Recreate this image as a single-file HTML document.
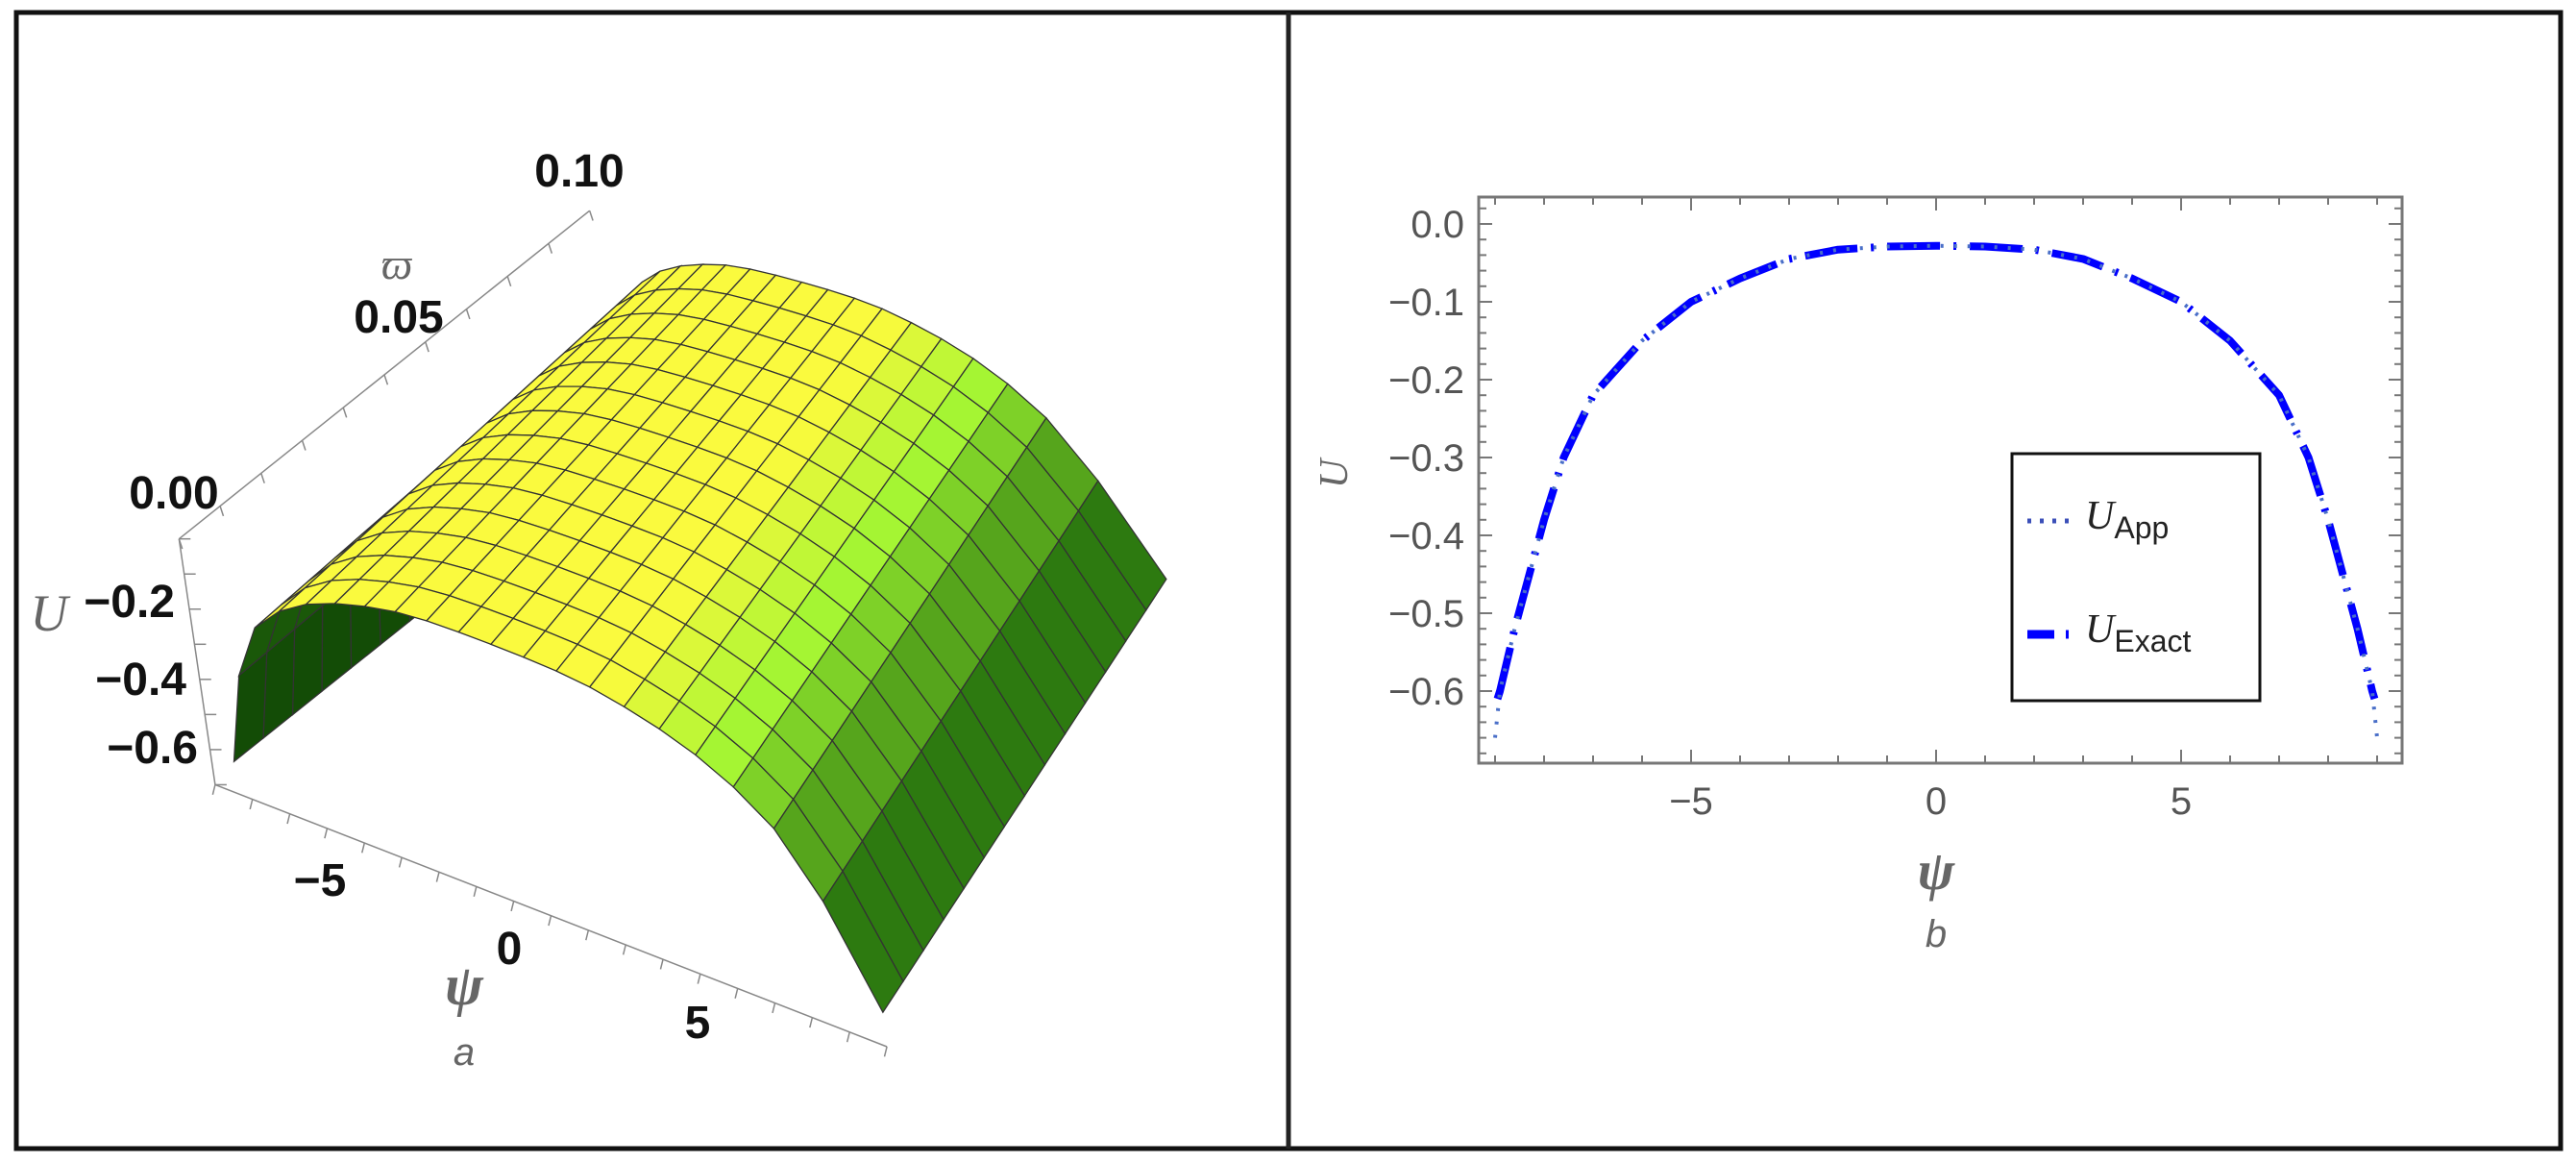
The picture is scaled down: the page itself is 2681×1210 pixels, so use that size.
<!DOCTYPE html>
<html><head><meta charset="utf-8"><style>
html,body{margin:0;padding:0;background:#fff;overflow:hidden;}
svg{display:block;font-family:"Liberation Sans",sans-serif;}
</style></head><body>
<svg id="fig" width="2681" height="1210" viewBox="0 0 2681 1210" xmlns="http://www.w3.org/2000/svg">
<rect x="0" y="0" width="2681" height="1210" fill="#fff"/>
<rect x="17" y="13" width="2648" height="1182" fill="none" stroke="#111" stroke-width="5"/>
<line x1="1341" y1="13" x2="1341" y2="1195" stroke="#222" stroke-width="5"/>

<g>
<g id="p3d" transform="translate(0,100) scale(0.8547,0.6443)">
  <g id="box3d" stroke="#888" stroke-width="1.5" fill="none">
    <line x1="218" y1="715" x2="262" y2="1112" vector-effect="non-scaling-stroke"/>
    <line x1="262" y1="1112" x2="1080" y2="1535" vector-effect="non-scaling-stroke"/>
    <line x1="218" y1="715" x2="718" y2="185" vector-effect="non-scaling-stroke"/>
  </g>
  <g id="surf"></g>
</g>
  <g font-weight="bold" fill="#111" font-size="48">
    <text x="603" y="194" text-anchor="middle">0.10</text>
    <text x="415" y="346" text-anchor="middle">0.05</text>
    <text x="181" y="529" text-anchor="middle">0.00</text>
    <text x="182" y="642" text-anchor="end">−0.2</text>
    <text x="194" y="723" text-anchor="end">−0.4</text>
    <text x="206" y="794" text-anchor="end">−0.6</text>
    <text x="333" y="932" text-anchor="middle">−5</text>
    <text x="530" y="1003" text-anchor="middle">0</text>
    <text x="726" y="1080" text-anchor="middle">5</text>
  </g>
  <text x="413" y="290" font-family="Liberation Serif,serif" font-style="italic" font-size="46" fill="#666" text-anchor="middle">ϖ</text>
  <text x="51" y="656" font-family="Liberation Serif,serif" font-style="italic" font-size="54" fill="#666" text-anchor="middle">U</text>
  <text x="483" y="1045" font-family="Liberation Serif,serif" font-style="italic" font-weight="bold" font-size="60" fill="#666" text-anchor="middle">ψ</text>
  <text x="483" y="1108" font-style="italic" font-size="40" fill="#666" text-anchor="middle">a</text>
</g>

<g id="p2d">
  <rect x="1539" y="205" width="961" height="589" fill="none" stroke="#777" stroke-width="3"/>
  <g id="ticks2d" stroke="#777" stroke-width="2"></g>
  <g id="ylabels" fill="#555" font-size="40" text-anchor="end"></g>
  <g id="xlabels" fill="#555" font-size="40" text-anchor="middle"></g>
  <g id="curves" fill="none"></g>
  <text x="1402" y="493" font-family="Liberation Serif,serif" font-style="italic" font-size="42" fill="#666" text-anchor="middle" transform="rotate(-90 1402 493)">U</text>
  <text x="2015" y="925" font-family="Liberation Serif,serif" font-style="italic" font-weight="bold" font-size="58" fill="#666" text-anchor="middle">ψ</text>
  <text x="2015" y="985" font-style="italic" font-size="40" fill="#666" text-anchor="middle">b</text>
  <g>
    <rect x="2094" y="472" width="258" height="257" fill="#fff" stroke="#111" stroke-width="3"/>
    <line x1="2110" y1="542" x2="2159" y2="542" stroke="#3b4fb8" stroke-width="5" stroke-dasharray="4 9"/>
    <text x="2170" y="550" font-family="Liberation Serif,serif" font-style="italic" font-size="42" fill="#222">U<tspan font-family="Liberation Sans,sans-serif" font-style="normal" font-size="32" dy="10">App</tspan></text>
    <line x1="2110" y1="660" x2="2162" y2="660" stroke="#0000ff" stroke-width="9" stroke-dasharray="28 12 3 12"/>
    <text x="2170" y="668" font-family="Liberation Serif,serif" font-style="italic" font-size="42" fill="#222">U<tspan font-family="Liberation Sans,sans-serif" font-style="normal" font-size="32" dy="10">Exact</tspan></text>
  </g>
</g>
</svg>
<script>
const psiData = [-9,-8.9,-8.6,-8.3,-8,-7.6,-7,-6,-5,-4,-3,-2,-1,0,1,2,3,4,5,6,7,7.6,8,8.3,8.6,8.9,9];
const uApp = [-0.66,-0.6,-0.52,-0.45,-0.38,-0.3,-0.22,-0.15,-0.1,-0.07,-0.045,-0.033,-0.029,-0.028,-0.029,-0.033,-0.045,-0.07,-0.1,-0.15,-0.22,-0.3,-0.38,-0.45,-0.52,-0.6,-0.66];
const psiExact = [-8.95,-8.9,-8.6,-8.3,-8,-7.6,-7,-6,-5,-4,-3,-2,-1,0,1,2,3,4,5,6,7,7.6,8,8.3,8.6,8.9,8.95];
const uExact = [-0.61,-0.6,-0.52,-0.45,-0.38,-0.3,-0.22,-0.15,-0.1,-0.07,-0.045,-0.033,-0.029,-0.028,-0.029,-0.033,-0.045,-0.07,-0.1,-0.15,-0.22,-0.3,-0.38,-0.45,-0.52,-0.6,-0.61];
const xTicks = [-5,0,5];
const xTickLabels = ["−5","0","5"];
const yTicks = [0,-0.1,-0.2,-0.3,-0.4,-0.5,-0.6];
const yTickLabels = ["0.0","−0.1","−0.2","−0.3","−0.4","−0.5","−0.6"];
const varpiRange = [0,0.1];

const NS="http://www.w3.org/2000/svg";
function xS(v){return 2015+v*51;}
function yS(v){return 233-v*810;}
function mk(tag,parent){const e=document.createElementNS(NS,tag);parent.appendChild(e);return e;}

const tg=document.getElementById('ticks2d');
for(let v=-9;v<=9;v++){
  const len=(v%5===0)?14:8;
  let l=mk('line',tg);l.setAttribute('x1',xS(v));l.setAttribute('x2',xS(v));l.setAttribute('y1',794);l.setAttribute('y2',794-len);
  
  
  l=mk('line',tg);l.setAttribute('x1',xS(v));l.setAttribute('x2',xS(v));l.setAttribute('y1',205);l.setAttribute('y2',205+len);
  
  
}
for(let i=1;i>=-34;i--){
  const v=i*0.02;const yy=yS(v);if(yy<207||yy>792)continue;
  const len=(i%5===0)?14:8;
  let l=mk('line',tg);l.setAttribute('x1',1539);l.setAttribute('x2',1539+len);l.setAttribute('y1',yy);l.setAttribute('y2',yy);
  
  
  l=mk('line',tg);l.setAttribute('x1',2500);l.setAttribute('x2',2500-len);l.setAttribute('y1',yy);l.setAttribute('y2',yy);
  
  
}
const yl=document.getElementById('ylabels');
yTicks.forEach((v,i)=>{const t=mk('text',yl);t.setAttribute('x',1524);t.setAttribute('y',yS(v)+14);t.textContent=yTickLabels[i];
  
  });
const xl=document.getElementById('xlabels');
xTicks.forEach((v,i)=>{const t=mk('text',xl);t.setAttribute('x',xS(v));t.setAttribute('y',847);t.textContent=xTickLabels[i];
  
  });

const cg=document.getElementById('curves');
function poly(xs,ys){return xs.map((x,i)=>xS(x).toFixed(1)+','+yS(ys[i]).toFixed(1)).join(' ');}
const pE=mk('polyline',cg);pE.setAttribute('points',poly(psiExact,uExact));
pE.setAttribute('stroke','#0000ff');pE.setAttribute('stroke-width','8');pE.setAttribute('stroke-dasharray','55 14 3 14');pE.setAttribute('stroke-linejoin','round');


const pA=mk('polyline',cg);pA.setAttribute('points',poly(psiData,uApp));
pA.setAttribute('stroke','#4a6fc8');pA.setAttribute('stroke-width','4');pA.setAttribute('stroke-dasharray','3 11');



// 3D surface (geometry in zoom-space, group transform maps to page)
function uAt(p){
  for(let i=0;i<psiData.length-1;i++){
    if(p>=psiData[i]&&p<=psiData[i+1]){const t=(p-psiData[i])/(psiData[i+1]-psiData[i]);return uApp[i]+t*(uApp[i+1]-uApp[i]);}
  }
  return uApp[uApp.length-1];
}
function P3(psi,w,u){
  const t=(w-varpiRange[0])/(varpiRange[1]-varpiRange[0]);
  const fx=680+43.9*psi, fy=1277+22.5*psi;
  const kx=1102.5+35.3*psi, ky=662.5+13.06*psi;
  const bx=fx+(kx-fx)*t, by=fy+(ky-fy)*t;
  const dx=-130+(-200+130)*t, dy=-620+(-573+620)*t;
  return [bx+(u+0.66)*dx, by+(u+0.66)*dy];
}
function lerpC(a,b,t){t=Math.max(0,Math.min(1,t));return a.map((v,i)=>Math.round(v+(b[i]-v)*t));}
const sg=document.getElementById('surf');
const NP=20,NW=14;
for(let j=NW-1;j>=0;j--){
  for(let i=0;i<NP;i++){
    const p0=-9+18*i/NP,p1=-9+18*(i+1)/NP;
    const w0=0.1*j/NW,w1=0.1*(j+1)/NW;
    const a=P3(p0,w0,uAt(p0)),b=P3(p1,w0,uAt(p1)),c=P3(p1,w1,uAt(p1)),d=P3(p0,w1,uAt(p0));
    const cross=(b[0]-a[0])*(d[1]-a[1])-(b[1]-a[1])*(d[0]-a[0]);
    let col;
    const pm=(p0+p1)/2;
    if(cross>0){col=lerpC([40,110,15],[15,70,5],(-pm-6)/3);}
    else if(pm>3){
      const t=(pm-3)/6;
      col=t<0.5?lerpC([250,250,60],[160,245,50],t/0.5):lerpC([160,245,50],[25,100,10],(t-0.5)/0.5);
    } else if(pm<-6){col=lerpC([225,225,45],[250,250,60],(pm+9)/3);}
    else col=[250,250,62];
    const q=mk('polygon',sg);
    q.setAttribute('points',[a,b,c,d].map(v=>v[0].toFixed(1)+','+v[1].toFixed(1)).join(' '));
    q.setAttribute('fill','rgb('+col.join(',')+')');q.setAttribute('stroke','#333');q.setAttribute('stroke-width','1.3');
    q.setAttribute('vector-effect','non-scaling-stroke');
    
    
  }
}
const bx=document.getElementById('box3d');
for(let k=0;k<=18;k++){
  const t=k/18;const x=262+(1080-262)*t,y=1112+(1535-1112)*t;
  const l=mk('line',bx);l.setAttribute('x1',x);l.setAttribute('y1',y);l.setAttribute('x2',x-3);l.setAttribute('y2',y+16);
  l.setAttribute('vector-effect','non-scaling-stroke');
  
  
}
for(let k=0;k<=10;k++){
  const t=k/10;const x=218+(718-218)*t,y=715+(185-715)*t;
  const l=mk('line',bx);l.setAttribute('x1',x);l.setAttribute('y1',y);l.setAttribute('x2',x+4);l.setAttribute('y2',y+16);
  l.setAttribute('vector-effect','non-scaling-stroke');
  
  
}
for(let k=0;k<=7;k++){
  const t=k/7;const x=218+(262-218)*t,y=715+(1112-715)*t;
  const l=mk('line',bx);l.setAttribute('x1',x);l.setAttribute('y1',y);l.setAttribute('x2',x+14);l.setAttribute('y2',y);
  l.setAttribute('vector-effect','non-scaling-stroke');
  
  
}
</script>
</body></html>
